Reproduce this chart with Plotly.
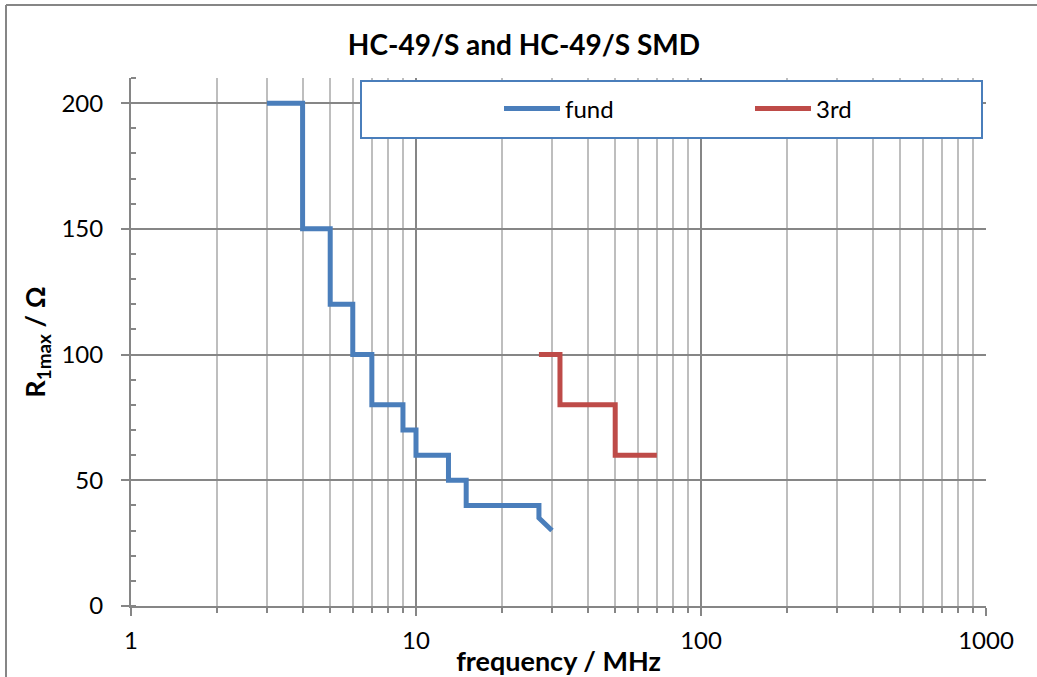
import plotly.graph_objects as go

# Data (frequency in MHz, R1max in Ohm)
fund_freq = [3, 4, 4, 5, 5, 6, 6, 7, 7, 9, 9, 10, 10, 13, 13, 15, 15, 27, 27, 30]
fund_r = [200, 200, 150, 150, 120, 120, 100, 100, 80, 80, 70, 70, 60, 60, 50, 50, 40, 40, 35, 30]
third_freq = [27, 32, 32, 50, 50, 70]
third_r = [100, 100, 80, 80, 60, 60]

x_tickvals = [1, 10, 100, 1000]
x_ticktext = ["1", "10", "100", "1000"]
y_tickvals = [0, 50, 100, 150, 200]

FONT = "Lato"
BLUE = "#4A7EBB"
RED = "#BE4B48"
DARK = "#868686"
LIGHT = "#BEBEBE"

W, H = 1037, 677
ML, MR, MT, MB = 131, 51, 78, 71
PW, PH = W - ML - MR, H - MT - MB


def px_x(px):
    return (px - ML) / PW


def px_y(py):
    return (H - MB - py) / PH


fig = go.Figure()
fig.add_trace(go.Scatter(x=fund_freq, y=fund_r, mode="lines", name="fund",
                         line=dict(color=BLUE, width=5)))
fig.add_trace(go.Scatter(x=third_freq, y=third_r, mode="lines", name="3rd",
                         line=dict(color=RED, width=5)))

fig.update_layout(
    width=W, height=H,
    margin=dict(l=ML, r=MR, t=MT, b=MB, autoexpand=False),
    paper_bgcolor="white", plot_bgcolor="white",
    font=dict(family=FONT, size=24, color="black"),
    title=dict(text="<b>HC-49/S and HC-49/S SMD</b>", x=524 / W, xanchor="center",
               xref="container",
               y=1 - 45 / H, yanchor="middle", font=dict(family=FONT, size=28)),
    showlegend=True,
    legend=dict(orientation="h", x=px_x(499), xanchor="left", y=px_y(109), yanchor="middle",
                bgcolor="rgba(0,0,0,0)", borderwidth=0, itemwidth=56,
                entrywidth=180, entrywidthmode="pixels",
                font=dict(family=FONT, size=24), traceorder="normal"),
    xaxis=dict(type="log", range=[0, 3], tickvals=x_tickvals, ticktext=x_ticktext,
               automargin=False,
               showgrid=True, gridcolor=DARK, gridwidth=2,
               showline=True, linecolor=DARK, linewidth=2,
               ticks="outside", ticklen=8, tickwidth=2, tickcolor=DARK,
               ticklabelstandoff=4, zeroline=False,
               minor=dict(showgrid=True, gridcolor=LIGHT, gridwidth=2,
                          ticks="outside", ticklen=5, tickwidth=2, tickcolor=DARK,
                          tickvals=[2, 3, 4, 5, 6, 7, 8, 9, 20, 30, 40, 50, 60, 70, 80, 90,
                                    200, 300, 400, 500, 600, 700, 800, 900]),
               title=dict(text="<b>frequency / MHz</b>", standoff=0,
                          font=dict(family=FONT, size=27))),
    yaxis=dict(range=[0, 210], tickvals=y_tickvals, automargin=False,
               showgrid=True, gridcolor=DARK, gridwidth=2,
               showline=True, linecolor=DARK, linewidth=2,
               ticks="outside", ticklen=8, tickwidth=2, tickcolor=DARK,
               ticklabelstandoff=13, zeroline=False,
               minor=dict(showgrid=False, ticks="inside", ticklen=5, tickwidth=2,
                          tickcolor=DARK, dtick=10),
               title=dict(text="<b>R<sub>1max</sub> / Ω</b>", standoff=8,
                          font=dict(family=FONT, size=27))),
    shapes=[
        # legend box
        dict(type="rect", xref="paper", yref="paper",
             x0=px_x(361), x1=px_x(982), y0=px_y(138), y1=px_y(81),
             line=dict(color=BLUE, width=2), fillcolor="white", layer="above"),
        # outer chart frame (top and left edges visible)
        dict(type="line", xref="paper", yref="paper",
             x0=px_x(6), x1=px_x(W), y0=px_y(5), y1=px_y(5),
             line=dict(color=DARK, width=2), layer="above"),
        dict(type="line", xref="paper", yref="paper",
             x0=px_x(6), x1=px_x(6), y0=px_y(5), y1=px_y(H),
             line=dict(color=DARK, width=2), layer="above"),
    ],
)

fig.write_html("out.html", config={"displayModeBar": False},
               post_script="document.body.style.margin='0';document.body.style.overflow='hidden';")
